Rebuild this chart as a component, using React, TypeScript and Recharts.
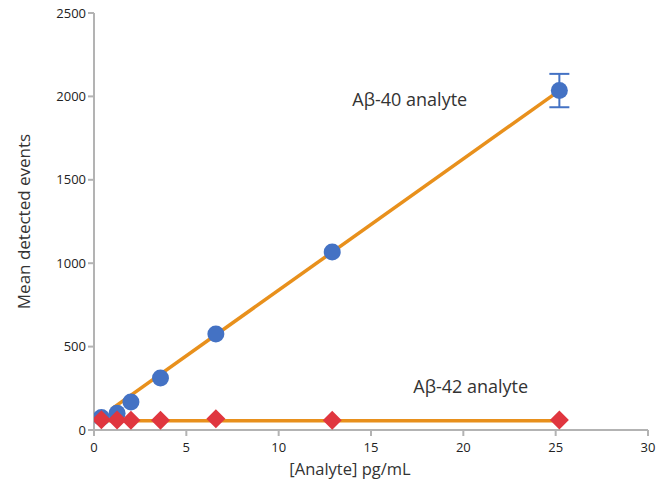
import React from 'react';
import {
  ComposedChart,
  Line,
  Scatter,
  XAxis,
  YAxis,
  ErrorBar,
  ReferenceDot,
} from 'recharts';

const concentrations = [0.4, 1.25, 2.0, 3.6, 6.6, 12.9, 25.2];
const ab40Events = [75, 100, 168, 312, 576, 1067, 2035];
const ab40Errors = [0, 0, 0, 0, 0, 0, 100];
const ab42Events = [62, 60, 58, 58, 68, 58, 60];

const ab40FitX = [1.0, 25.2];
const ab40FitY = [130, 2035];
const ab42FitX = [0.4, 25.2];
const ab42FitY = [55, 55];

const xTicks = [0, 5, 10, 15, 20, 25, 30];
const yTicks = [0, 500, 1000, 1500, 2000, 2500];

const ab40Data = concentrations.map((x, i) => ({ x, y: ab40Events[i], err: ab40Errors[i] }));
const ab42Data = concentrations.map((x, i) => ({ x, y: ab42Events[i] }));
const ab40Fit = ab40FitX.map((x, i) => ({ x, y: ab40FitY[i] }));
const ab42Fit = ab42FitX.map((x, i) => ({ x, y: ab42FitY[i] }));

const FONT = '"Open Sans", "Noto Sans", sans-serif';
const ORANGE = '#e8901c';
const BLUE = '#4472c4';
const RED = '#e0363f';
const AXIS = '#b3b3b3';

const Circle = (props: any) => (
  <circle cx={props.cx} cy={props.cy} r={8.5} fill={BLUE} />
);

const Diamond = (props: any) => {
  const { cx, cy } = props;
  const s = 9.5;
  return (
    <polygon
      points={`${cx},${cy - s} ${cx + s},${cy} ${cx},${cy + s} ${cx - s},${cy}`}
      fill={RED}
    />
  );
};

const tickStyle = { fontFamily: FONT, fontSize: 13, fill: '#222' };

export default function App() {
  return (
    <div style={{ position: 'absolute', left: 0, top: 0, background: '#fff' }}>
      <ComposedChart
        width={662}
        height={487}
        margin={{ top: 13, right: 14, bottom: 27, left: 34 }}
      >
        <XAxis
          type="number"
          dataKey="x"
          domain={[0, 30]}
          ticks={xTicks}
          allowDataOverflow
          stroke={AXIS}
          strokeWidth={2}
          tickSize={6}
          tick={{ ...tickStyle, dy: 5 }}
          height={30}
          label={{
            value: '[Analyte] pg/mL',
            position: 'insideBottom',
            offset: -15,
            dx: -21,
            style: { fontFamily: FONT, fontSize: 16.5, fill: '#333', fontWeight: 500 },
          }}
        />
        <YAxis
          type="number"
          dataKey="y"
          domain={[0, 2500]}
          ticks={yTicks}
          allowDataOverflow
          stroke={AXIS}
          strokeWidth={2}
          tickSize={6}
          tick={tickStyle}
          width={60}
          label={{
            value: 'Mean detected events',
            angle: -90,
            position: 'insideLeft',
            offset: -10,
            style: { fontFamily: FONT, fontSize: 17, fill: '#333', fontWeight: 500, textAnchor: 'middle' },
          }}
        />
        <Line
          data={ab40Fit}
          dataKey="y"
          stroke={ORANGE}
          strokeWidth={3.5}
          dot={false}
          activeDot={false}
          isAnimationActive={false}
        />
        <Line
          data={ab42Fit}
          dataKey="y"
          stroke={ORANGE}
          strokeWidth={3.5}
          dot={false}
          activeDot={false}
          isAnimationActive={false}
        />
        <Scatter data={ab40Data} dataKey="y" shape={Circle} isAnimationActive={false}>
          <ErrorBar dataKey="err" direction="y" width={10} stroke={BLUE} strokeWidth={2} />
        </Scatter>
        <Scatter data={ab42Data} dataKey="y" shape={Diamond} isAnimationActive={false} />
        <ReferenceDot
          x={17.1}
          y={1980}
          r={0}
          label={{ value: 'Aβ-40 analyte', position: 'center', style: { fontFamily: FONT, fontSize: 18, fill: '#333' } }}
        />
        <ReferenceDot
          x={20.4}
          y={258}
          r={0}
          label={{ value: 'Aβ-42 analyte', position: 'center', style: { fontFamily: FONT, fontSize: 18, fill: '#333' } }}
        />
      </ComposedChart>
    </div>
  );
}
